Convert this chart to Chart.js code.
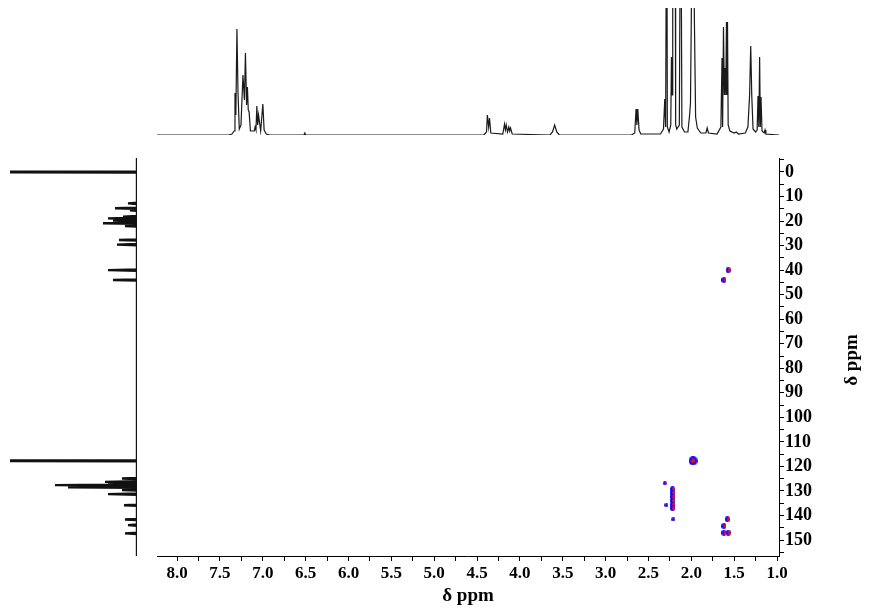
<!doctype html>
<html>
    <head>
        <meta charset="utf-8">
        <script src="https://cdn.jsdelivr.net/npm/chart.js"></script>

        <style>

            body {
                margin: 0px;
                background-color: white;
                width: 872px;
                height: 613px;
                overflow: hidden;
                position: relative;
            }

            canvas {
                position: absolute;
            }

            #topChart {
                left: 157px;
                top: 0px;
            }

            #sideChart {
                left: 0px;
                top: 158px;
            }

            #mainChart {
                left: 157px;
                top: 158px;
            }

        </style>
    </head>
    <body>

        <canvas id="topChart" width="622" height="140"></canvas>
        <canvas id="sideChart" width="145" height="398"></canvas>
        <canvas id="mainChart" width="715" height="455"></canvas>

        <script>

        // 1H projection (ppm, height)
        const hPpm = [8.235, 7.40, 7.36, 7.335, 7.325, 7.315, 7.302, 7.29, 7.275, 7.255, 7.232, 7.215, 7.203, 7.19, 7.18, 7.17, 7.16, 7.145,
            7.10, 7.09, 7.08, 7.07, 7.06, 7.05, 7.025, 7.00, 6.985, 6.96, 6.92, 6.52, 6.51, 6.50,
            4.42, 4.39, 4.38, 4.365, 4.355, 4.34, 4.20, 4.18, 4.17, 4.16, 4.145, 4.13, 4.12, 4.11, 4.09,
            3.65, 3.62, 3.595, 3.57, 3.54, 2.70, 2.66, 2.645, 2.635, 2.625, 2.61, 2.59,
            2.36, 2.325, 2.31, 2.30, 2.287, 2.28, 2.26, 2.24, 2.232, 2.225, 2.217, 2.212, 2.206, 2.198, 2.19, 2.183, 2.17,
            2.14, 2.124, 2.11, 2.08, 2.04, 2.02, 2.01, 2.00, 1.99, 1.975, 1.965, 1.95, 1.93, 1.89,
            1.83, 1.815, 1.80, 1.70, 1.655, 1.642, 1.635, 1.625, 1.615, 1.605, 1.598, 1.59, 1.585, 1.578, 1.57, 1.55,
            1.50, 1.475, 1.45, 1.37, 1.34, 1.32, 1.307, 1.295, 1.28, 1.25,
            1.232, 1.222, 1.212, 1.203, 1.195, 1.187, 1.175, 1.15, 1.14, 1.13, 0.977];
        const hInt = [0, 0, 1, 4, 42, 20, 106, 43, 6, 10, 60, 35, 82, 30, 48, 25, 23, 4,
            4, 8, 5, 29, 10, 20, 4, 31, 5, 1, 0, 0, 2, 0,
            0, 3, 20, 8, 17, 2, 1, 11, 5, 10, 3, 8, 4, 7, 1,
            0, 3, 10, 3, 0, 0, 2, 26, 10, 26, 5, 1,
            1, 6, 36, 8, 300, 8, 3, 10, 78, 40, 300, 150, 300, 150, 300, 10, 6,
            10, 300, 8, 3, 3, 20, 32, 120, 300, 300, 120, 18, 7, 2,
            2, 7, 2, 1, 8, 77, 8, 108, 40, 67, 40, 113, 40, 113, 10, 4,
            2, 3, 1, 2, 8, 40, 89, 40, 6, 3,
            5, 39, 8, 78, 8, 38, 4, 2, 5, 1, 0];

        // 13C projection (ppm, height)
        const cPpm = [0.0, 12.8, 14.8, 15.6, 18.2, 18.9, 19.8, 20.9, 22.0, 27.7, 29.6, 40.0, 44.0,
            117.7, 124.9, 126.3, 126.9, 127.6, 128.5, 129.6, 131.3, 135.8, 141.6, 143.9, 147.3];
        const cInt = [200, 9, 22, 7, 14, 29, 24, 34, 12, 18, 20, 29, 24,
            200, 15, 32, 29, 82, 69, 15, 29, 13, 12, 9, 12];

        // cross peaks: 1H ppm, 13C ppm, rough strength (1 weak .. 3 strong)
        const crossH = [1.57, 1.62, 1.98, 2.31, 2.22, 2.22, 2.22, 2.22, 2.22, 2.22, 2.29, 2.21, 1.58, 1.62, 1.62, 1.57];
        const crossC = [40.0, 44.0, 117.7, 126.9, 129.3, 130.9, 132.4, 134.0, 135.6, 137.0, 135.8, 141.6, 141.5, 144.3, 147.0, 147.0];
        const crossI = [2, 2, 3, 1, 2, 2, 2, 2, 2, 2, 1, 1, 2, 2, 2, 2];

        // axis ranges shared by the three panels
        const hMin = 0.977, hMax = 8.235;
        const cMin = -5.7, cMax = 156.5;

        const serif = '"Liberation Serif", "Times New Roman", serif';

        // blue/red contour blob used as point style
        function blob(w, h, ring) {
            const c = document.createElement('canvas');
            c.width = w;
            c.height = h;
            const g = c.getContext('2d');
            g.fillStyle = '#0a0aff';
            g.beginPath();
            g.ellipse(w / 2, h / 2, w / 2, h / 2, 0, 0, Math.PI * 2);
            g.fill();
            g.fillStyle = '#ff0a0a';
            g.beginPath();
            if (ring) {
                g.ellipse(w / 2, h / 2, w / 2 - 2.2, h / 2 - 2.2, 0, 0, Math.PI * 2);
            } else {
                g.ellipse(w / 2 + 1, h / 2, w / 2 - 1.2, h / 2 - 0.8, 0, 0, Math.PI * 2);
            }
            g.fill();
            return c;
        }
        const blobs = [null, blob(4, 4, false), blob(5, 6, false), blob(9, 9, true)];

        // no extra room for overflowing labels, panels must line up
        function fixBox(s, w, h) {
            if (w !== null) s.width = w;
            if (h !== null) s.height = h;
            s.paddingTop = 0;
            s.paddingBottom = 0;
            s.paddingLeft = 0;
            s.paddingRight = 0;
        }

        // top 1H trace
        new Chart(document.getElementById('topChart'), {
            type: 'scatter',
            data: {
                datasets: [{
                    data: hPpm.map((p, i) => ({x: p, y: hInt[i]})),
                    showLine: true,
                    borderColor: '#1a1a1a',
                    borderWidth: 1.2,
                    pointRadius: 0,
                    tension: 0
                }]
            },
            options: {
                responsive: false,
                animation: false,
                layout: { autoPadding: false, padding: {top: 8, bottom: 5, left: 0, right: 0} },
                plugins: { legend: {display: false}, tooltip: {enabled: false} },
                scales: {
                    x: { type: 'linear', reverse: true, min: hMin, max: hMax, display: false },
                    y: { min: 0, max: 127, display: false }
                }
            }
        });

        // left 13C trace, sticks drawn out from the baseline
        const sidePoints = [{x: 0, y: cMin}];
        cPpm.forEach((p, i) => {
            sidePoints.push({x: 0, y: p - 0.25}, {x: cInt[i], y: p}, {x: 0, y: p + 0.25});
        });
        sidePoints.push({x: 0, y: cMax});

        new Chart(document.getElementById('sideChart'), {
            type: 'scatter',
            data: {
                datasets: [{
                    data: sidePoints,
                    showLine: true,
                    borderColor: '#111',
                    borderWidth: 2.4,
                    pointRadius: 0,
                    tension: 0
                }]
            },
            options: {
                responsive: false,
                animation: false,
                layout: { autoPadding: false, padding: {top: 0, bottom: 0, left: 10, right: 8} },
                plugins: { legend: {display: false}, tooltip: {enabled: false} },
                scales: {
                    x: { min: 0, max: 127, reverse: true, display: false },
                    y: { min: cMin, max: cMax, reverse: true, display: false }
                }
            }
        });

        // vertical title on the right, reading bottom to top
        const rightTitle = {
            id: 'rightTitle',
            afterDraw(chart) {
                const ctx = chart.ctx;
                const a = chart.chartArea;
                ctx.save();
                ctx.translate(a.right + 73, (a.top + a.bottom) / 2 + 3);
                ctx.rotate(-Math.PI / 2);
                ctx.font = 'bold 19px ' + serif;
                ctx.fillStyle = '#000';
                ctx.textAlign = 'center';
                ctx.textBaseline = 'middle';
                ctx.fillText('δ ppm', 0, 0);
                ctx.restore();
            }
        };

        new Chart(document.getElementById('mainChart'), {
            type: 'scatter',
            data: {
                datasets: [{
                    data: crossH.map((h, i) => ({x: h, y: crossC[i]})),
                    pointStyle: (ctx) => blobs[crossI[ctx.dataIndex]],
                    pointRadius: 4
                }]
            },
            options: {
                responsive: false,
                animation: false,
                layout: { autoPadding: false, padding: 0 },
                plugins: { legend: {display: false}, tooltip: {enabled: false} },
                scales: {
                    x: {
                        type: 'linear',
                        reverse: true,
                        min: hMin,
                        max: hMax,
                        position: 'bottom',
                        afterFit: (s) => fixBox(s, null, 57),
                        grid: { drawOnChartArea: false, tickLength: 5, color: '#000' },
                        border: { color: '#000', width: 1 },
                        ticks: {
                            stepSize: 0.25,
                            includeBounds: false,
                            autoSkip: false,
                            maxRotation: 0,
                            padding: 2,
                            color: '#000',
                            font: { family: serif, weight: 'bold', size: 17 },
                            callback: (v) => Math.abs(v * 2 - Math.round(v * 2)) < 1e-6 ? v.toFixed(1) : ''
                        },
                        title: {
                            display: true,
                            text: 'δ ppm',
                            color: '#000',
                            font: { family: serif, weight: 'bold', size: 19 },
                            padding: { top: 0, bottom: 6 }
                        }
                    },
                    y: {
                        reverse: true,
                        min: cMin,
                        max: cMax,
                        position: 'right',
                        afterFit: (s) => fixBox(s, 93, null),
                        grid: { drawOnChartArea: false, tickLength: 5, color: '#000' },
                        border: { color: '#000', width: 1 },
                        ticks: {
                            stepSize: 5,
                            includeBounds: false,
                            autoSkip: false,
                            padding: 1,
                            color: '#000',
                            font: { family: serif, weight: 'bold', size: 18 },
                            callback: (v) => v % 10 === 0 ? String(v) : ''
                        }
                    }
                }
            },
            plugins: [rightTitle]
        });

        </script>

    </body>
</html>
